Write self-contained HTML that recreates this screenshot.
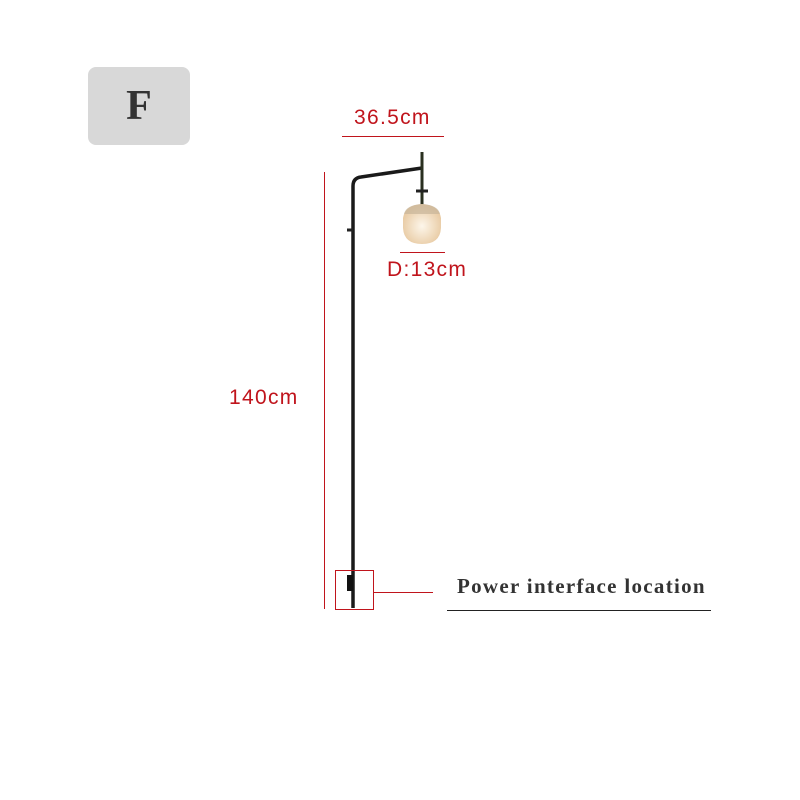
<!DOCTYPE html>
<html><head><style>
body{margin:0;width:800px;height:800px;background:#fff;position:relative;overflow:hidden;font-family:"Liberation Sans",sans-serif}
.a{position:absolute}
.r{font-size:21px;letter-spacing:1.3px;color:#c0141c}
</style></head><body>
<div class="a" style="left:88px;top:67px;width:102px;height:78px;background:#d8d8d8;border-radius:8px"></div>
<div class="a" style="left:88px;top:82px;width:102px;text-align:center;font:bold 42px 'Liberation Serif',serif;color:#333">F</div>
<div class="a r" style="left:354px;top:106px">36.5cm</div>
<div class="a" style="left:342px;top:136px;width:102px;height:1px;background:#c0141c"></div>
<div class="a" style="left:324px;top:172px;width:1px;height:437px;background:#c0141c"></div>
<div class="a r" style="left:229px;top:386px">140cm</div>
<div class="a r" style="left:387px;top:258px">D:13cm</div>
<div class="a" style="left:400px;top:252px;width:45px;height:1px;background:#c0141c"></div>
<svg class="a" style="left:0;top:0" width="800" height="800">
<path d="M353 608 L353 186 Q353 178 361 177 L422 168" stroke="#1a1a1a" stroke-width="3.5" fill="none"/>
<line x1="422" y1="152" x2="422" y2="208" stroke="#2a3020" stroke-width="3"/>
<line x1="416" y1="191" x2="428" y2="191" stroke="#222" stroke-width="3"/>
<line x1="347" y1="230" x2="353" y2="230" stroke="#222" stroke-width="3"/>
<defs><radialGradient id="g" cx="0.5" cy="0.55" r="0.6"><stop offset="0" stop-color="#fdf6ea"/><stop offset="1" stop-color="#e6c69c"/></radialGradient></defs>
<path d="M403 218 Q405 205 422 204 Q439 205 441 218 L441 228 Q440 244 422 244 Q404 244 403 228 Z" fill="url(#g)"/>
<path d="M404 214 Q406 205 422 204 Q438 205 440 214 Z" fill="#c7b59a" opacity="0.7"/>
<rect x="347" y="575" width="6" height="16" fill="#111"/>
<rect x="335.5" y="570.5" width="38" height="39" fill="none" stroke="#c0141c" stroke-width="1"/>
<line x1="374" y1="592.5" x2="433" y2="592.5" stroke="#c0141c" stroke-width="1"/>
<line x1="447" y1="610.5" x2="711" y2="610.5" stroke="#222" stroke-width="1"/>
</svg>
<div class="a" style="left:457px;top:574px;font:bold 21px 'Liberation Serif',serif;letter-spacing:1.3px;color:#333">Power interface location</div>
</body></html>
